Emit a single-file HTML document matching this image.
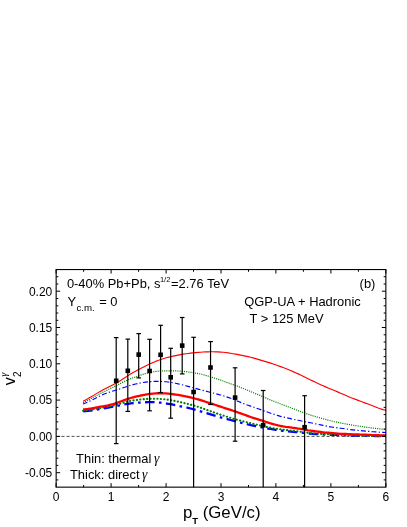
<!DOCTYPE html>
<html lang="en"><head><meta charset="utf-8"><title>v2 photon plot</title>
<style>html,body{margin:0;padding:0;background:#fff}svg{display:block;will-change:transform}text{font-family:"Liberation Sans",Arial,Helvetica,sans-serif;fill:#000}.g{font-family:"Liberation Serif","DejaVu Serif",serif}</style></head><body>
<svg width="407" height="527" viewBox="0 0 407 527">
<rect width="407" height="527" fill="#fff"/>
<line x1="56.15" y1="436.4" x2="385.85" y2="436.4" stroke="#000" stroke-width="0.7" stroke-dasharray="3 2" stroke-dashoffset="4.6"/>
<g fill="none" stroke-linejoin="round">
<path d="M83.1,403.93 L85.6,402.95 L88.1,401.85 L90.6,400.67 L93.1,399.43 L95.6,398.17 L98.1,396.90 L100.6,395.68 L103.1,394.54 L105.6,393.50 L108.1,392.58 L110.6,391.76 L113.1,391.02 L115.6,390.28 L118.1,389.50 L120.6,388.67 L123.1,387.81 L125.6,386.96 L128.1,386.14 L130.6,385.37 L133.1,384.66 L135.6,384.02 L138.1,383.45 L140.6,382.94 L143.1,382.51 L145.6,382.14 L148.1,381.84 L150.6,381.62 L153.1,381.46 L155.6,381.37 L158.1,381.34 L160.6,381.38 L163.1,381.51 L165.6,381.71 L168.1,381.99 L170.6,382.35 L173.1,382.78 L175.6,383.28 L178.1,383.83 L180.6,384.43 L183.1,385.05 L185.6,385.70 L188.1,386.37 L190.6,387.04 L193.1,387.72 L195.6,388.40 L198.1,389.07 L200.6,389.73 L203.1,390.39 L205.6,391.05 L208.1,391.70 L210.6,392.35 L213.1,393.01 L215.6,393.66 L218.1,394.33 L220.6,395.03 L223.1,395.76 L225.6,396.52 L228.1,397.35 L230.6,398.26 L233.1,399.24 L235.6,400.28 L238.1,401.34 L240.6,402.38 L243.1,403.39 L245.6,404.35 L248.1,405.27 L250.6,406.14 L253.1,407.00 L255.6,407.87 L258.1,408.76 L260.6,409.66 L263.1,410.56 L265.6,411.45 L268.1,412.33 L270.6,413.20 L273.1,414.04 L275.6,414.85 L278.1,415.62 L280.6,416.35 L283.1,417.01 L285.6,417.56 L288.1,418.09 L290.6,418.66 L293.1,419.22 L295.6,419.76 L298.1,420.28 L300.6,420.80 L303.1,421.33 L305.6,421.85 L308.1,422.33 L310.6,422.80 L313.1,423.31 L315.6,423.86 L318.1,424.40 L320.6,424.91 L323.1,425.42 L325.6,425.93 L328.1,426.42 L330.6,426.88 L333.1,427.27 L335.6,427.59 L338.1,427.89 L340.6,428.21 L343.1,428.55 L345.6,428.88 L348.1,429.23 L350.6,429.58 L353.1,429.92 L355.6,430.22 L358.1,430.46 L360.6,430.65 L363.1,430.86 L365.6,431.09 L368.1,431.31 L370.6,431.53 L373.1,431.73 L375.6,431.94 L378.1,432.13 L380.6,432.30 L383.1,432.44 L385.6,432.55 L386.0,432.62" stroke="#0000ff" stroke-width="1.15" stroke-dasharray="5 2.2 1.3 2.2" stroke-dashoffset="0.4"/>
<path d="M83.1,402.89 L85.6,401.50 L88.1,400.11 L90.6,398.73 L93.1,397.36 L95.6,396.01 L98.1,394.67 L100.6,393.36 L103.1,392.08 L105.6,390.82 L108.1,389.60 L110.6,388.39 L113.1,387.18 L115.6,385.95 L118.1,384.69 L120.6,383.41 L123.1,382.13 L125.6,380.90 L128.1,379.75 L130.6,378.70 L133.1,377.73 L135.6,376.84 L138.1,375.99 L140.6,375.16 L143.1,374.34 L145.6,373.55 L148.1,372.84 L150.6,372.24 L153.1,371.77 L155.6,371.42 L158.1,371.19 L160.6,371.05 L163.1,370.97 L165.6,370.93 L168.1,370.90 L170.6,370.89 L173.1,370.90 L175.6,370.94 L178.1,371.02 L180.6,371.17 L183.1,371.37 L185.6,371.63 L188.1,371.95 L190.6,372.31 L193.1,372.70 L195.6,373.12 L198.1,373.59 L200.6,374.10 L203.1,374.69 L205.6,375.34 L208.1,376.05 L210.6,376.81 L213.1,377.61 L215.6,378.44 L218.1,379.29 L220.6,380.15 L223.1,381.03 L225.6,381.93 L228.1,382.84 L230.6,383.75 L233.1,384.65 L235.6,385.57 L238.1,386.51 L240.6,387.46 L243.1,388.45 L245.6,389.45 L248.1,390.48 L250.6,391.53 L253.1,392.57 L255.6,393.62 L258.1,394.66 L260.6,395.71 L263.1,396.77 L265.6,397.84 L268.1,398.92 L270.6,399.98 L273.1,401.03 L275.6,402.04 L278.1,403.02 L280.6,403.97 L283.1,404.90 L285.6,405.82 L288.1,406.75 L290.6,407.71 L293.1,408.68 L295.6,409.67 L298.1,410.65 L300.6,411.61 L303.1,412.53 L305.6,413.42 L308.1,414.26 L310.6,415.06 L313.1,415.82 L315.6,416.57 L318.1,417.31 L320.6,418.04 L323.1,418.76 L325.6,419.46 L328.1,420.13 L330.6,420.76 L333.1,421.35 L335.6,421.89 L338.1,422.42 L340.6,422.95 L343.1,423.46 L345.6,423.93 L348.1,424.38 L350.6,424.81 L353.1,425.22 L355.6,425.61 L358.1,425.99 L360.6,426.36 L363.1,426.73 L365.6,427.12 L368.1,427.48 L370.6,427.80 L373.1,428.11 L375.6,428.41 L378.1,428.70 L380.6,428.97 L383.1,429.20 L385.6,429.40 L386.0,429.54" stroke="#008000" stroke-width="1.2" stroke-dasharray="1.1 1.1"/>
<path d="M83.1,401.37 L85.6,399.99 L88.1,398.56 L90.6,397.10 L93.1,395.62 L95.6,394.13 L98.1,392.63 L100.6,391.15 L103.1,389.74 L105.6,388.42 L108.1,387.15 L110.6,385.92 L113.1,384.66 L115.6,383.35 L118.1,381.93 L120.6,380.41 L123.1,378.82 L125.6,377.20 L128.1,375.62 L130.6,374.09 L133.1,372.62 L135.6,371.19 L138.1,369.82 L140.6,368.48 L143.1,367.17 L145.6,365.91 L148.1,364.70 L150.6,363.54 L153.1,362.45 L155.6,361.41 L158.1,360.45 L160.6,359.57 L163.1,358.75 L165.6,358.01 L168.1,357.32 L170.6,356.69 L173.1,356.11 L175.6,355.57 L178.1,355.08 L180.6,354.61 L183.1,354.19 L185.6,353.80 L188.1,353.46 L190.6,353.14 L193.1,352.87 L195.6,352.62 L198.1,352.41 L200.6,352.21 L203.1,352.05 L205.6,351.91 L208.1,351.82 L210.6,351.77 L213.1,351.77 L215.6,351.82 L218.1,351.93 L220.6,352.09 L223.1,352.30 L225.6,352.55 L228.1,352.86 L230.6,353.25 L233.1,353.71 L235.6,354.17 L238.1,354.64 L240.6,355.11 L243.1,355.61 L245.6,356.12 L248.1,356.67 L250.6,357.25 L253.1,357.91 L255.6,358.64 L258.1,359.40 L260.6,360.14 L263.1,360.88 L265.6,361.63 L268.1,362.38 L270.6,363.15 L273.1,363.95 L275.6,364.79 L278.1,365.68 L280.6,366.60 L283.1,367.55 L285.6,368.52 L288.1,369.52 L290.6,370.55 L293.1,371.61 L295.6,372.72 L298.1,373.88 L300.6,375.07 L303.1,376.28 L305.6,377.51 L308.1,378.73 L310.6,379.94 L313.1,381.14 L315.6,382.33 L318.1,383.50 L320.6,384.65 L323.1,385.77 L325.6,386.86 L328.1,387.92 L330.6,388.96 L333.1,390.00 L335.6,391.04 L338.1,392.10 L340.6,393.17 L343.1,394.26 L345.6,395.34 L348.1,396.41 L350.6,397.45 L353.1,398.45 L355.6,399.41 L358.1,400.35 L360.6,401.28 L363.1,402.20 L365.6,403.13 L368.1,404.07 L370.6,405.03 L373.1,406.00 L375.6,407.00 L378.1,407.96 L380.6,408.83 L383.1,409.59 L385.6,410.20 L386.0,410.62" stroke="#ff0000" stroke-width="1.15"/>
<path d="M83.1,411.40 L85.6,411.13 L88.1,410.84 L90.6,410.52 L93.1,410.18 L95.6,409.82 L98.1,409.43 L100.6,409.01 L103.1,408.57 L105.6,408.10 L108.1,407.62 L110.6,407.13 L113.1,406.64 L115.6,406.14 L118.1,405.64 L120.6,405.14 L123.1,404.64 L125.6,404.18 L128.1,403.77 L130.6,403.42 L133.1,403.12 L135.6,402.89 L138.1,402.70 L140.6,402.53 L143.1,402.39 L145.6,402.25 L148.1,402.15 L150.6,402.11 L153.1,402.15 L155.6,402.26 L158.1,402.44 L160.6,402.69 L163.1,403.01 L165.6,403.38 L168.1,403.79 L170.6,404.23 L173.1,404.71 L175.6,405.22 L178.1,405.73 L180.6,406.26 L183.1,406.78 L185.6,407.32 L188.1,407.89 L190.6,408.50 L193.1,409.16 L195.6,409.85 L198.1,410.59 L200.6,411.36 L203.1,412.14 L205.6,412.91 L208.1,413.68 L210.6,414.43 L213.1,415.18 L215.6,415.91 L218.1,416.63 L220.6,417.33 L223.1,418.01 L225.6,418.65 L228.1,419.30 L230.6,419.99 L233.1,420.67 L235.6,421.34 L238.1,421.99 L240.6,422.64 L243.1,423.29 L245.6,423.91 L248.1,424.50 L250.6,425.05 L253.1,425.59 L255.6,426.15 L258.1,426.66 L260.6,427.13 L263.1,427.59 L265.6,428.05 L268.1,428.51 L270.6,428.97 L273.1,429.41 L275.6,429.82 L278.1,430.21 L280.6,430.56 L283.1,430.86 L285.6,431.12 L288.1,431.34 L290.6,431.55 L293.1,431.78 L295.6,432.02 L298.1,432.29 L300.6,432.58 L303.1,432.89 L305.6,433.18 L308.1,433.45 L310.6,433.67 L313.1,433.86 L315.6,434.02 L318.1,434.16 L320.6,434.29 L323.1,434.41 L325.6,434.53 L328.1,434.64 L330.6,434.75 L333.1,434.85 L335.6,434.95 L338.1,435.05 L340.6,435.14 L343.1,435.23 L345.6,435.32 L348.1,435.40 L350.6,435.48 L353.1,435.55 L355.6,435.61 L358.1,435.67 L360.6,435.73 L363.1,435.78 L365.6,435.83 L368.1,435.87 L370.6,435.91 L373.1,435.95 L375.6,435.98 L378.1,436.02 L380.6,436.05 L383.1,436.07 L385.6,436.09 L386.0,436.10" stroke="#0000ff" stroke-width="2.3" stroke-dasharray="9.5 4.4 2.6 4.4"/>
<path d="M83.1,410.69 L85.6,410.40 L88.1,410.07 L90.6,409.71 L93.1,409.33 L95.6,408.93 L98.1,408.50 L100.6,408.05 L103.1,407.59 L105.6,407.13 L108.1,406.66 L110.6,406.19 L113.1,405.66 L115.6,405.06 L118.1,404.37 L120.6,403.62 L123.1,402.85 L125.6,402.11 L128.1,401.44 L130.6,400.87 L133.1,400.43 L135.6,400.07 L138.1,399.77 L140.6,399.49 L143.1,399.22 L145.6,398.99 L148.1,398.81 L150.6,398.71 L153.1,398.68 L155.6,398.72 L158.1,398.81 L160.6,398.94 L163.1,399.13 L165.6,399.37 L168.1,399.69 L170.6,400.08 L173.1,400.55 L175.6,401.08 L178.1,401.66 L180.6,402.24 L183.1,402.82 L185.6,403.40 L188.1,404.00 L190.6,404.64 L193.1,405.33 L195.6,406.06 L198.1,406.86 L200.6,407.70 L203.1,408.57 L205.6,409.45 L208.1,410.34 L210.6,411.24 L213.1,412.14 L215.6,413.03 L218.1,413.90 L220.6,414.74 L223.1,415.56 L225.6,416.34 L228.1,417.11 L230.6,417.88 L233.1,418.65 L235.6,419.36 L238.1,420.03 L240.6,420.68 L243.1,421.33 L245.6,421.96 L248.1,422.58 L250.6,423.20 L253.1,423.81 L255.6,424.44 L258.1,425.02 L260.6,425.57 L263.1,426.11 L265.6,426.67 L268.1,427.21 L270.6,427.71 L273.1,428.18 L275.6,428.59 L278.1,428.96 L280.6,429.29 L283.1,429.60 L285.6,429.93 L288.1,430.24 L290.6,430.49 L293.1,430.75 L295.6,431.05 L298.1,431.40 L300.6,431.76 L303.1,432.12 L305.6,432.48 L308.1,432.83 L310.6,433.15 L313.1,433.38 L315.6,433.52 L318.1,433.67 L320.6,433.83 L323.1,433.99 L325.6,434.14 L328.1,434.28 L330.6,434.43 L333.1,434.56 L335.6,434.69 L338.1,434.81 L340.6,434.92 L343.1,435.02 L345.6,435.11 L348.1,435.20 L350.6,435.27 L353.1,435.35 L355.6,435.42 L358.1,435.49 L360.6,435.56 L363.1,435.63 L365.6,435.69 L368.1,435.75 L370.6,435.81 L373.1,435.86 L375.6,435.90 L378.1,435.94 L380.6,435.96 L383.1,435.98 L385.6,436.00 L386.0,436.00" stroke="#008000" stroke-width="2.1" stroke-linecap="round" stroke-dasharray="0.2 3.23"/>
<path d="M83.1,409.46 L85.6,409.23 L88.1,408.92 L90.6,408.54 L93.1,408.11 L95.6,407.64 L98.1,407.16 L100.6,406.71 L103.1,406.26 L105.6,405.79 L108.1,405.28 L110.6,404.71 L113.1,404.06 L115.6,403.31 L118.1,402.45 L120.6,401.52 L123.1,400.57 L125.6,399.67 L128.1,398.82 L130.6,398.02 L133.1,397.28 L135.6,396.62 L138.1,396.03 L140.6,395.50 L143.1,395.03 L145.6,394.59 L148.1,394.19 L150.6,393.85 L153.1,393.57 L155.6,393.37 L158.1,393.25 L160.6,393.22 L163.1,393.29 L165.6,393.44 L168.1,393.66 L170.6,393.94 L173.1,394.25 L175.6,394.60 L178.1,394.97 L180.6,395.37 L183.1,395.81 L185.6,396.30 L188.1,396.84 L190.6,397.43 L193.1,398.08 L195.6,398.76 L198.1,399.47 L200.6,400.21 L203.1,400.96 L205.6,401.73 L208.1,402.53 L210.6,403.34 L213.1,404.16 L215.6,404.99 L218.1,405.83 L220.6,406.67 L223.1,407.50 L225.6,408.35 L228.1,409.18 L230.6,409.96 L233.1,410.76 L235.6,411.60 L238.1,412.48 L240.6,413.38 L243.1,414.29 L245.6,415.19 L248.1,416.08 L250.6,416.96 L253.1,417.79 L255.6,418.56 L258.1,419.35 L260.6,420.16 L263.1,420.96 L265.6,421.76 L268.1,422.54 L270.6,423.31 L273.1,424.05 L275.6,424.74 L278.1,425.40 L280.6,426.00 L283.1,426.48 L285.6,426.83 L288.1,427.12 L290.6,427.43 L293.1,427.77 L295.6,428.13 L298.1,428.52 L300.6,428.95 L303.1,429.43 L305.6,429.90 L308.1,430.31 L310.6,430.66 L313.1,431.01 L315.6,431.38 L318.1,431.71 L320.6,432.01 L323.1,432.28 L325.6,432.53 L328.1,432.76 L330.6,432.99 L333.1,433.21 L335.6,433.44 L338.1,433.64 L340.6,433.79 L343.1,433.90 L345.6,434.02 L348.1,434.13 L350.6,434.23 L353.1,434.32 L355.6,434.41 L358.1,434.51 L360.6,434.62 L363.1,434.71 L365.6,434.77 L368.1,434.85 L370.6,434.95 L373.1,435.06 L375.6,435.17 L378.1,435.26 L380.6,435.33 L383.1,435.39 L385.6,435.41 L386.0,435.39" stroke="#ff0000" stroke-width="2.3"/>
</g>
<g stroke="#000" stroke-width="1.2" fill="none">
<line x1="116.2" y1="337.6" x2="116.2" y2="443.6"/>
<line x1="113.9" y1="337.6" x2="118.5" y2="337.6"/>
<line x1="113.9" y1="443.6" x2="118.5" y2="443.6"/>
<line x1="127.8" y1="339.1" x2="127.8" y2="411.4"/>
<line x1="125.5" y1="339.1" x2="130.1" y2="339.1"/>
<line x1="125.5" y1="411.4" x2="130.1" y2="411.4"/>
<line x1="138.7" y1="333.6" x2="138.7" y2="377.9"/>
<line x1="136.4" y1="333.6" x2="141.0" y2="333.6"/>
<line x1="136.4" y1="377.9" x2="141.0" y2="377.9"/>
<line x1="149.6" y1="339.3" x2="149.6" y2="410.8"/>
<line x1="147.3" y1="339.3" x2="151.9" y2="339.3"/>
<line x1="147.3" y1="410.8" x2="151.9" y2="410.8"/>
<line x1="160.6" y1="325.3" x2="160.6" y2="392.5"/>
<line x1="158.3" y1="325.3" x2="162.9" y2="325.3"/>
<line x1="158.3" y1="392.5" x2="162.9" y2="392.5"/>
<line x1="170.7" y1="348.3" x2="170.7" y2="418.2"/>
<line x1="168.4" y1="348.3" x2="173.0" y2="348.3"/>
<line x1="168.4" y1="418.2" x2="173.0" y2="418.2"/>
<line x1="182.2" y1="317.5" x2="182.2" y2="373.9"/>
<line x1="179.9" y1="317.5" x2="184.5" y2="317.5"/>
<line x1="179.9" y1="373.9" x2="184.5" y2="373.9"/>
<line x1="193.6" y1="337.3" x2="193.6" y2="487.15"/>
<line x1="191.3" y1="337.3" x2="195.9" y2="337.3"/>
<line x1="210.55" y1="341.6" x2="210.55" y2="404.5"/>
<line x1="208.2" y1="341.6" x2="212.9" y2="341.6"/>
<line x1="208.2" y1="404.5" x2="212.9" y2="404.5"/>
<line x1="235.1" y1="367.8" x2="235.1" y2="441.2"/>
<line x1="232.8" y1="367.8" x2="237.4" y2="367.8"/>
<line x1="232.8" y1="441.2" x2="237.4" y2="441.2"/>
<line x1="263.2" y1="390.5" x2="263.2" y2="487.15"/>
<line x1="260.9" y1="390.5" x2="265.5" y2="390.5"/>
<line x1="304.6" y1="395.7" x2="304.6" y2="487.15"/>
<line x1="302.3" y1="395.7" x2="306.9" y2="395.7"/>
</g>
<g fill="#000">
<rect x="113.9" y="378.5" width="4.6" height="4.6"/>
<rect x="125.5" y="368.5" width="4.6" height="4.6"/>
<rect x="136.4" y="352.3" width="4.6" height="4.6"/>
<rect x="147.3" y="368.7" width="4.6" height="4.6"/>
<rect x="158.3" y="352.5" width="4.6" height="4.6"/>
<rect x="168.4" y="375.0" width="4.6" height="4.6"/>
<rect x="179.9" y="343.3" width="4.6" height="4.6"/>
<rect x="191.3" y="389.7" width="4.6" height="4.6"/>
<rect x="208.2" y="365.2" width="4.6" height="4.6"/>
<rect x="232.8" y="395.3" width="4.6" height="4.6"/>
<rect x="260.9" y="422.9" width="4.6" height="4.6"/>
<rect x="302.3" y="424.9" width="4.6" height="4.6"/>
</g>
<rect x="56.15" y="269.55" width="329.70000000000005" height="217.59999999999997" fill="none" stroke="#000" stroke-width="1.1"/>
<path d="M56.1,487.15 v-4.0 M56.1,269.55 v4.0 M83.6,487.15 v-2.2 M83.6,269.55 v2.2 M111.1,487.15 v-4.0 M111.1,269.55 v4.0 M138.6,487.15 v-2.2 M138.6,269.55 v2.2 M166.1,487.15 v-4.0 M166.1,269.55 v4.0 M193.5,487.15 v-2.2 M193.5,269.55 v2.2 M221.0,487.15 v-4.0 M221.0,269.55 v4.0 M248.5,487.15 v-2.2 M248.5,269.55 v2.2 M275.9,487.15 v-4.0 M275.9,269.55 v4.0 M303.4,487.15 v-2.2 M303.4,269.55 v2.2 M330.9,487.15 v-4.0 M330.9,269.55 v4.0 M358.4,487.15 v-2.2 M358.4,269.55 v2.2 M385.9,487.15 v-4.0 M385.9,269.55 v4.0 M56.15,479.9 h2.2 M385.85,479.9 h-2.2 M56.15,472.7 h4.0 M385.85,472.7 h-4.0 M56.15,465.4 h2.2 M385.85,465.4 h-2.2 M56.15,458.2 h2.2 M385.85,458.2 h-2.2 M56.15,450.9 h2.2 M385.85,450.9 h-2.2 M56.15,443.7 h2.2 M385.85,443.7 h-2.2 M56.15,436.4 h4.0 M385.85,436.4 h-4.0 M56.15,429.1 h2.2 M385.85,429.1 h-2.2 M56.15,421.9 h2.2 M385.85,421.9 h-2.2 M56.15,414.6 h2.2 M385.85,414.6 h-2.2 M56.15,407.4 h2.2 M385.85,407.4 h-2.2 M56.15,400.1 h4.0 M385.85,400.1 h-4.0 M56.15,392.9 h2.2 M385.85,392.9 h-2.2 M56.15,385.6 h2.2 M385.85,385.6 h-2.2 M56.15,378.3 h2.2 M385.85,378.3 h-2.2 M56.15,371.1 h2.2 M385.85,371.1 h-2.2 M56.15,363.8 h4.0 M385.85,363.8 h-4.0 M56.15,356.6 h2.2 M385.85,356.6 h-2.2 M56.15,349.3 h2.2 M385.85,349.3 h-2.2 M56.15,342.0 h2.2 M385.85,342.0 h-2.2 M56.15,334.8 h2.2 M385.85,334.8 h-2.2 M56.15,327.5 h4.0 M385.85,327.5 h-4.0 M56.15,320.3 h2.2 M385.85,320.3 h-2.2 M56.15,313.0 h2.2 M385.85,313.0 h-2.2 M56.15,305.8 h2.2 M385.85,305.8 h-2.2 M56.15,298.5 h2.2 M385.85,298.5 h-2.2 M56.15,291.2 h4.0 M385.85,291.2 h-4.0 M56.15,284.0 h2.2 M385.85,284.0 h-2.2 M56.15,276.7 h2.2 M385.85,276.7 h-2.2" stroke="#000" stroke-width="1" fill="none"/>
<g font-size="12" text-anchor="middle">
<text x="56.1" y="501">0</text>
<text x="111.1" y="501">1</text>
<text x="166.1" y="501">2</text>
<text x="221.0" y="501">3</text>
<text x="275.9" y="501">4</text>
<text x="330.9" y="501">5</text>
<text x="385.9" y="501">6</text>
</g>
<g font-size="12" text-anchor="end">
<text x="52.3" y="295.5">0.20</text>
<text x="52.3" y="331.8">0.15</text>
<text x="52.3" y="368.1">0.10</text>
<text x="52.3" y="404.4">0.05</text>
<text x="52.3" y="440.7">0.00</text>
<text x="52.3" y="477.0">-0.05</text>
</g>
<text x="66.9" y="288" font-size="12.9">0-40% Pb+Pb, s<tspan font-size="7.5" dy="-5.6" dx="-0.5">1/2</tspan><tspan dy="5.6" dx="0.6">=2.76 TeV</tspan></text>
<text x="67.5" y="305.8" font-size="12.9">Y<tspan font-size="9.7" dy="5.0" dx="0.4">c.m.</tspan><tspan dy="-5.0" dx="0.8"> = 0</tspan></text>
<text x="359.6" y="288" font-size="12.9">(b)</text>
<text x="244.3" y="306.4" font-size="12.9">QGP-UA + Hadronic</text>
<text x="249.6" y="323.4" font-size="12.9">T &gt; 125 MeV</text>
<text x="76.1" y="463.2" font-size="12.9">Thin: thermal <tspan class="g" font-size="13.6" font-style="italic" dx="-1.0">γ</tspan></text>
<text x="70.0" y="478.7" font-size="12.9">Thick: direct <tspan class="g" font-size="13.6" font-style="italic" dx="-1.0">γ</tspan></text>
<text x="182.9" y="518.2" font-size="16.8">p<tspan font-size="9.5" font-weight="bold" dy="5.8">T</tspan><tspan dy="-5.8"> (GeV/c)</tspan></text>
<text transform="translate(15,385.3) rotate(-90)" font-size="16">v<tspan font-size="10" dy="5.8" dx="0.4">2</tspan><tspan class="g" font-size="10.5" font-style="italic" dy="-14.3" dx="-5.4">γ</tspan></text>
</svg></body></html>
